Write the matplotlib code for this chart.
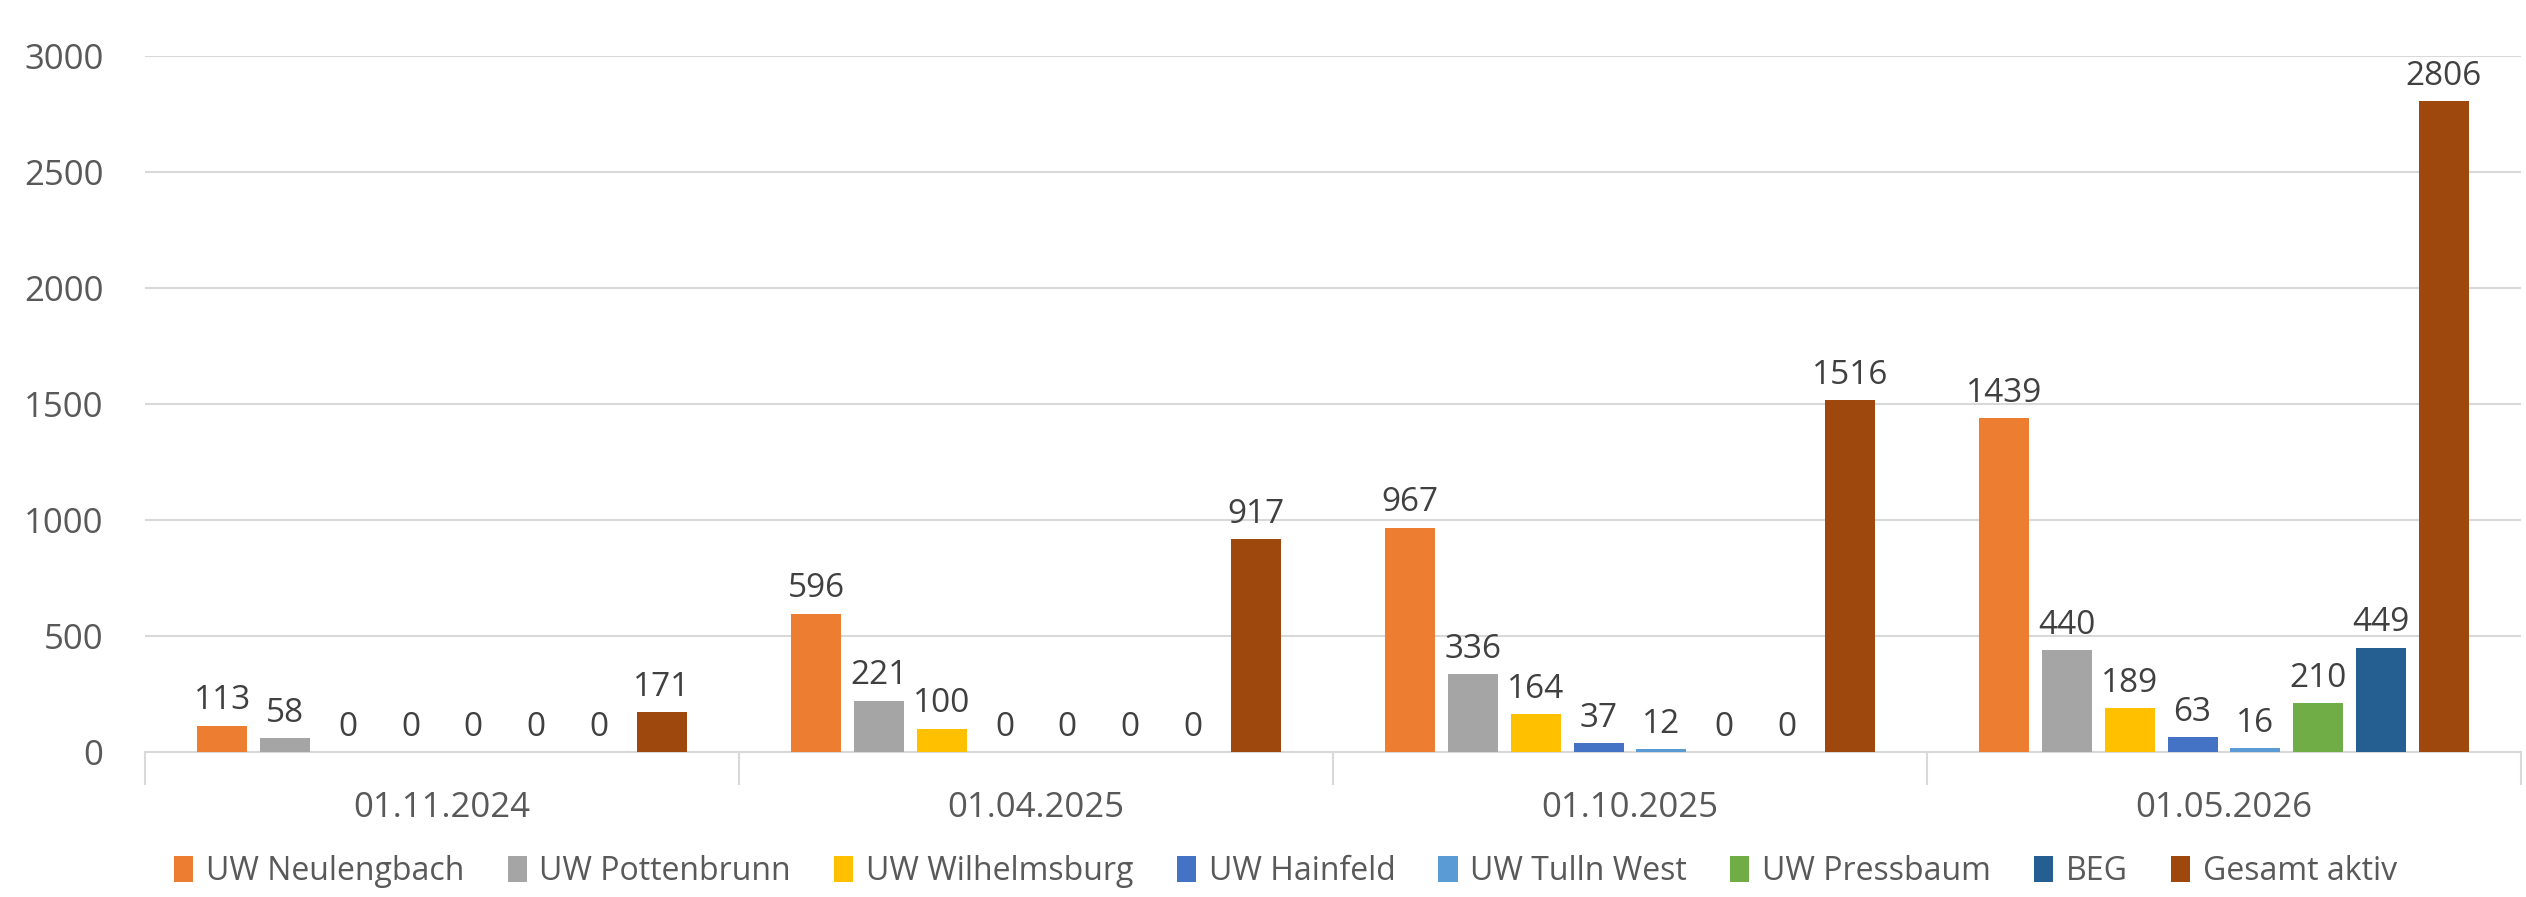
#! /usr/bin/env python3

import numpy as np
import matplotlib
matplotlib.use("Agg")
import matplotlib.pyplot as plt
from matplotlib.ticker import FixedLocator

# data
dates = ["01.11.2024", "01.04.2025", "01.10.2025", "01.05.2026"]
series_names = ["UW Neulengbach", "UW Pottenbrunn", "UW Wilhelmsburg", "UW Hainfeld",
                "UW Tulln West", "UW Pressbaum", "BEG", "Gesamt aktiv"]
neulengbach = [113, 596, 967, 1439]
pottenbrunn = [58, 221, 336, 440]
wilhelmsburg = [0, 100, 164, 189]
hainfeld = [0, 0, 37, 63]
tulln_west = [0, 0, 12, 16]
pressbaum = [0, 0, 0, 210]
beg = [0, 0, 0, 449]
gesamt = [171, 917, 1516, 2806]

colors = ["#ED7D31", "#A5A5A5", "#FFC000", "#4472C4",
          "#5B9BD5", "#70AD47", "#255E91", "#9E480E"]


def main():
    plt.rcParams['font.family'] = ['Open Sans', 'DejaVu Sans']
    all_series = [neulengbach, pottenbrunn, wilhelmsburg, hainfeld,
                  tulln_west, pressbaum, beg, gesamt]

    fig = plt.figure(figsize=(25.26, 8.97), dpi=100)
    ax = fig.add_axes([0.0574, 0.1617, 0.9406, 0.7759])

    x = np.arange(len(dates))
    step = 0.1057
    width = 0.084
    for i, (name, vals) in enumerate(zip(series_names, all_series)):
        pos = x + (i - 3.5) * step
        bars = ax.bar(pos, vals, width, color=colors[i], label=name, zorder=3)
        for b, v in zip(bars, vals):
            ax.annotate(str(v), (b.get_x() + b.get_width() / 2, v),
                        xytext=(0, 6), textcoords="offset points",
                        ha="center", va="bottom", fontsize=24, color="#404040")

    ax.set_xlim(-0.5, 3.5)
    ax.set_ylim(0, 3000)
    ax.set_yticks(np.arange(0, 3001, 500))
    ax.tick_params(axis="y", length=0, pad=30, labelsize=25, labelcolor="#595959")
    ax.grid(axis="y", color="#D9D9D9", linewidth=1.5, zorder=0)

    ax.set_xticks(x)
    ax.set_xticklabels(dates)
    ax.tick_params(axis="x", which="major", length=0, pad=28, labelsize=25, labelcolor="#595959")
    ax.xaxis.set_minor_locator(FixedLocator([-0.5, 0.5, 1.5, 2.5, 3.5]))
    ax.tick_params(axis="x", which="minor", length=24, width=1.5, color="#D9D9D9")

    for s in ["top", "right", "left"]:
        ax.spines[s].set_visible(False)
    ax.spines["bottom"].set_color("#D9D9D9")
    ax.spines["bottom"].set_linewidth(1.5)

    fig.legend(loc="lower center", bbox_to_anchor=(0.509, -0.022), ncol=8, frameon=False,
               fontsize=23, labelcolor="#595959", handlelength=0.6, handleheight=0.9,
               handletextpad=0.4, columnspacing=1.35)

    fig.savefig("out.png", dpi=100)


if __name__ == "__main__":
    main()
